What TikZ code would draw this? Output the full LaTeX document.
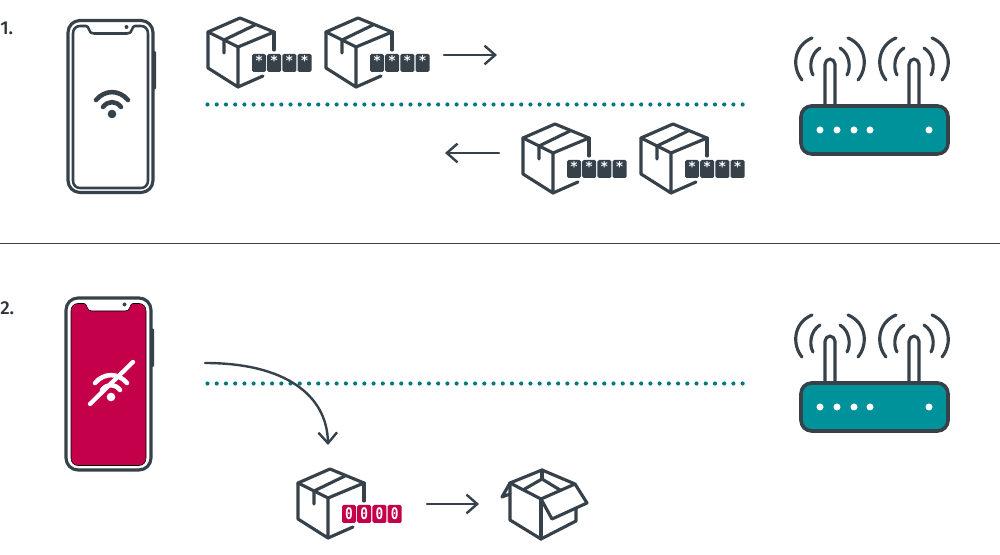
\documentclass[tikz,border=0pt]{standalone}
\usepackage{fontspec}
\setmainfont{Fira Sans}[BoldFont={Fira Sans Medium}]
\newfontfamily\keyfont{DejaVu Sans Mono}
\newfontfamily\starfont{DejaVu Sans}
\usetikzlibrary{arrows.meta}

\definecolor{inkdark}{HTML}{36414A}
\definecolor{routerteal}{HTML}{00929B}
\definecolor{dotteal}{HTML}{00767F}
\definecolor{alertred}{HTML}{C4004B}

\tikzset{
  ink/.style={draw=inkdark,line width=2.35pt,line join=round,line cap=round},
  phonescreen/.style={ink,line width=1.9pt},
  wifiline/.style={draw=inkdark,line width=3.4pt,line cap=round},
  wifidot/.style={fill=inkdark},
  arrowline/.style={draw=inkdark,line width=1.8pt,line cap=round,-{Straight Barb[length=8pt,width=14pt,line width=1.8pt]}},
  dotline/.style={draw=dotteal,line width=3.1pt,line cap=round,dash pattern=on 0pt off 6.92pt},
  steplabel/.style={text=inkdark!80!black,font=\fontsize{14}{14}\selectfont\bfseries,anchor=west,inner sep=0pt},
  keystar/.style={text=white,font=\starfont\fontsize{10}{10}\selectfont\bfseries,inner sep=0pt},
  keyzero/.style={text=white,font=\keyfont\fontsize{12}{12}\selectfont\bfseries,inner sep=0pt,xscale=.8,transform shape},
  pics/phone/.style={code={
    \draw[ink,fill=white,rounded corners=9pt] (0,0) rectangle (85,172);
    \draw[phonescreen] (5,13) .. controls (5,8.5) and (8,5.5) .. (12,5.5) -- (18,5.5) .. controls (20,5.5) and (20,7) .. (21,9) .. controls (22,12) and (23,13) .. (26,13) -- (59,13) .. controls (62,13) and (63,12) .. (64,9) .. controls (65,7) and (65,5.5) .. (67,5.5) -- (73,5.5) .. controls (77,5.5) and (80,8.5) .. (80,13) -- (80,160) .. controls (80,164.5) and (77,167.5) .. (73,167.5) -- (12,167.5) .. controls (8,167.5) and (5,164.5) .. (5,160) -- cycle;
    \fill[inkdark] (58.5,6.5) circle (2);
    \fill[inkdark,rounded corners=.8pt] (85,30.5) rectangle (88,69);
  }},
  pics/wifi/.style={code={
    \fill[wifidot] (0,0) circle (4.3);
    \draw[wifiline] (-9,-7) .. controls (-4,-13.5) and (4,-13.5) .. (9,-7);
    \draw[wifiline] (-16,-14) .. controls (-7,-24.5) and (7,-24.5) .. (16,-14);
  }},
  pics/router/.style={code={
    \foreach \ax in {0,84}{
      \draw[ink,rounded corners=4pt] (24+\ax,0) -- (24+\ax,-47) -- (34+\ax,-47) -- (34+\ax,0);
      \foreach \sx in {1,-1}{
        \begin{scope}[shift={(29+\ax,0)},xscale=\sx]
          \draw[ink] (-10,-58) .. controls (-20,-52) and (-21,-38) .. (-17,-31);
          \draw[ink] (-18,-68) .. controls (-37,-60) and (-38,-38) .. (-28,-26);
        \end{scope}
      }
    }
    \draw[ink,line width=2.7pt,fill=routerteal,rounded corners=8pt] (0,0) rectangle (147,48);
    \foreach \lx in {19,36,53,69,128}{
      \fill[white] (\lx,24) circle (3.5);
    }
  }},
  pics/parcel/.style n args={4}{code={
    \draw[ink] (0,0) -- (32,-14) -- (66,0) -- (30,15) -- cycle;
    \draw[ink] (0,0) -- (0,36) -- (30,55) -- (30,15);
    \draw[ink] (30,55) -- (55,44);
    \draw[ink] (66,0) -- (66,18);
    \draw[ink] (16,21) -- (16,8) -- (47,-7);
    \foreach \i in {0,1,2,3}{
      \pgfmathsetmacro{\cx}{44+15.2*\i}
      \fill[#1,rounded corners=1.2pt] (\cx,22) rectangle (\cx+14,40);
      \node[#2] (key\i) at (\cx+7,#3) {#4};
    }
  }},
  pics/openbox/.style={code={
    \draw[ink] (0,0) -- (32,-13) -- (65,1) -- (31,16) -- cycle;
    \draw[ink] (13,7) -- (32,-4) -- (50,7);
    \draw[ink] (32,-13) -- (32,-4);
    \draw[ink] (0,0) -- (0,37) -- (31,56) -- (66,38) -- (66,26);
    \draw[ink] (31,16) -- (31,56);
    \draw[ink] (65,1) -- (77,20) -- (42,36) -- (31,16);
    \draw[ink] (0,0) -- (-8,14) -- (0,11);
  }}
}

\begin{document}
\begin{tikzpicture}[x=.75pt,y=-.75pt]

\useasboundingbox (0,0) rectangle (1000,555);
\fill[white] (0,0) rectangle (1000,555);

\coordinate (dotaL) at (207.5,104.5);
\coordinate (dotaR) at (747,104.5);
\coordinate (dotbL) at (207.5,383.5);
\coordinate (dotbR) at (747,383.5);
\coordinate (sepL) at (0,243.5);
\coordinate (sepR) at (1000,243.5);

\node[steplabel] (stepa) at (0,28) {1.};
\node[steplabel] (stepb) at (0,308) {2.};
\draw[draw=inkdark,line width=.7pt] (sepL) -- (sepR);
\draw[dotline] (dotaL) -- (dotaR);
\draw[dotline] (dotbL) -- (dotbR);

\pic at (68,20.5) {phone};
\pic at (112,114) {wifi};
\pic at (801,106) {router};
\pic (boxa) at (208,32) {parcel={inkdark}{keystar}{29}{*}};
\pic (boxb) at (326,32) {parcel={inkdark}{keystar}{29}{*}};
\pic (boxc) at (523,138) {parcel={inkdark}{keystar}{29}{*}};
\pic (boxd) at (641,138) {parcel={inkdark}{keystar}{29}{*}};

\coordinate (senda) at (444,55);
\coordinate (sendb) at (497,55);
\coordinate (recva) at (499,153);
\coordinate (recvb) at (445,153);
\draw[arrowline] (senda) -- (sendb);
\draw[arrowline] (recva) -- (recvb);

\begin{scope}[phonescreen/.style={fill=alertred},wifiline/.style={draw=white,line width=3.4pt,line cap=round},wifidot/.style={fill=white}]
\pic at (66,298) {phone};
\pic at (111,397) {wifi};
\end{scope}
\coordinate (slasha) at (90,404);
\coordinate (slashb) at (133,362);
\draw[draw=white,line width=3.2pt,line cap=round] (slasha) -- (slashb);
\pic at (801,383) {router};

\coordinate (curvea) at (205,363);
\coordinate (curveb) at (328,445);
\draw[arrowline] (curvea) .. controls (285,363) and (327,395) .. (curveb);

\pic (boxe) at (298,483) {parcel={alertred}{keyzero}{31}{0}};
\coordinate (opena) at (427,504);
\coordinate (openb) at (479,504);
\draw[arrowline] (opena) -- (openb);
\pic at (510,483) {openbox};

\end{tikzpicture}
\end{document}
